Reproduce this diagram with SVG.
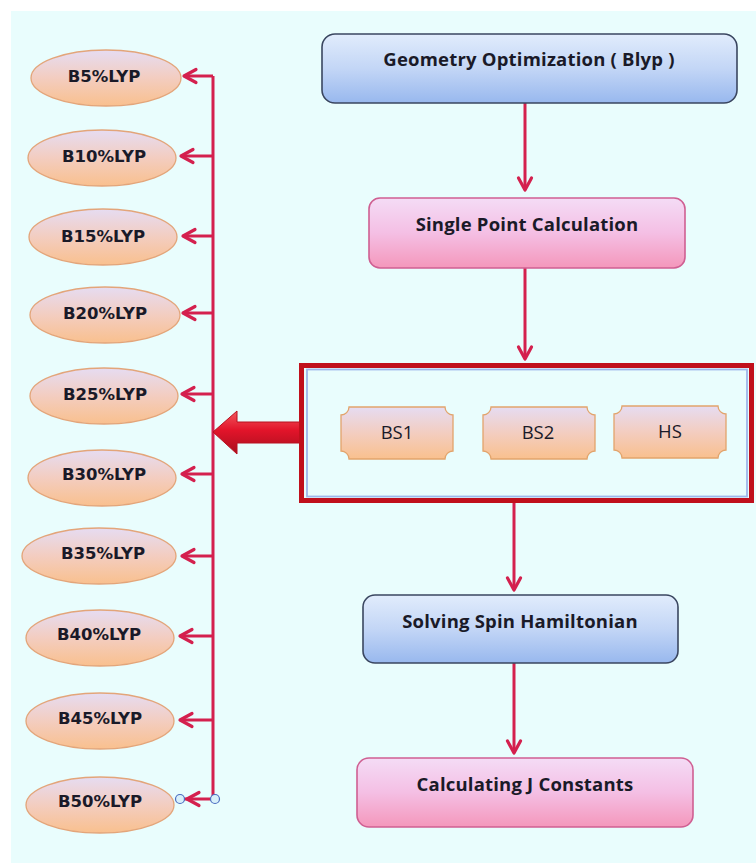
<svg xmlns="http://www.w3.org/2000/svg" width="756" height="863" viewBox="0 0 756 863">
<style>
.bg{fill:#e9fdfd}
.ell{fill:url(#gEll);stroke:#e3a57a;stroke-width:1.3}
.elt{font-family:"DejaVu Sans",Verdana,sans-serif;font-weight:bold;font-size:16.5px;fill:#1a1a28;text-anchor:middle}
.blue{fill:url(#gBlue);stroke:#3a4660;stroke-width:1.6}
.pink{fill:url(#gPink);stroke:#cf5f92;stroke-width:1.6}
.bt{font-family:"Open Sans","Liberation Sans",sans-serif;font-weight:bold;font-size:18.5px;letter-spacing:0.2px;fill:#1a1a28;text-anchor:middle}
.plq{fill:url(#gEll);stroke:#e2a46c;stroke-width:1.3}
.pt{font-family:"Open Sans","Liberation Sans",sans-serif;font-size:18.5px;fill:#1a1a28;text-anchor:middle}
.ln{fill:none;stroke:#d4204e;stroke-width:3}
.arr{marker-end:url(#chev)}
</style>
<defs>
<linearGradient id="gEll" x1="0" y1="0" x2="0" y2="1">
<stop offset="0" stop-color="#e6dcf2"/>
<stop offset="0.5" stop-color="#f3cdc0"/>
<stop offset="1" stop-color="#f9c08e"/>
</linearGradient>
<linearGradient id="gBlue" x1="0" y1="0" x2="0" y2="1">
<stop offset="0" stop-color="#e1ecfc"/>
<stop offset="0.5" stop-color="#c3d6f6"/>
<stop offset="1" stop-color="#98b8ee"/>
</linearGradient>
<linearGradient id="gPink" x1="0" y1="0" x2="0" y2="1">
<stop offset="0" stop-color="#f4dcf6"/>
<stop offset="0.5" stop-color="#f4bfe4"/>
<stop offset="1" stop-color="#f497bb"/>
</linearGradient>
<linearGradient id="gRed" x1="0" y1="0" x2="0" y2="1">
<stop offset="0" stop-color="#f2585e"/>
<stop offset="0.45" stop-color="#e2142a"/>
<stop offset="1" stop-color="#a80f1e"/>
</linearGradient>
<marker id="chev" markerUnits="userSpaceOnUse" viewBox="-15 -9 18 18" refX="0" refY="0" markerWidth="18" markerHeight="18" orient="auto">
<path d="M -12 -6.5 L 0 0 L -12 6.5" fill="none" stroke="#d4204e" stroke-width="3.2" stroke-linecap="round" stroke-linejoin="round"/>
</marker>
<path id="plaque" d="M 8 0 H 104 A 8 8 0 0 0 112 8 V 44 A 8 8 0 0 0 104 52 H 8 A 8 8 0 0 0 0 44 V 8 A 8 8 0 0 0 8 0 Z"/>
</defs>
<rect x="0" y="0" width="756" height="863" fill="#ffffff"/>
<rect class="bg" x="11" y="11" width="745" height="852"/>

<g id="connectors">
<line class="ln" x1="213" y1="76" x2="213" y2="799"/>
<line class="ln arr" x1="213" y1="76" x2="184" y2="76"/>
<line class="ln arr" x1="213" y1="156" x2="181" y2="156"/>
<line class="ln arr" x1="213" y1="236" x2="183" y2="236"/>
<line class="ln arr" x1="213" y1="313" x2="183" y2="313"/>
<line class="ln arr" x1="213" y1="394" x2="182" y2="394"/>
<line class="ln arr" x1="213" y1="474" x2="182" y2="474"/>
<line class="ln arr" x1="213" y1="556" x2="182" y2="556"/>
<line class="ln arr" x1="213" y1="636" x2="180" y2="636"/>
<line class="ln arr" x1="213" y1="720" x2="180" y2="720"/>
<line class="ln arr" x1="213" y1="799" x2="187" y2="799"/>
<line class="ln" x1="187" y1="799" x2="184" y2="799"/>
<circle cx="215" cy="799" r="4.5" fill="#d8f0fa" stroke="#4a6cc0" stroke-width="1.2"/>
<circle cx="180" cy="799" r="4.5" fill="#d8f0fa" stroke="#4a6cc0" stroke-width="1.2"/>
<line class="ln arr" x1="525" y1="103" x2="525" y2="190"/>
<line class="ln arr" x1="525" y1="268" x2="525" y2="359"/>
<line class="ln arr" x1="514" y1="503" x2="514" y2="590"/>
<line class="ln arr" x1="514" y1="663" x2="514" y2="753"/>
<polygon points="213,432 237,411 237,422 301,422 301,443 237,443 237,454" fill="url(#gRed)" stroke="#b81020" stroke-width="1"/>
</g>

<g id="b5"><ellipse class="ell" cx="106" cy="78" rx="75" ry="28"/><text class="elt" x="104" y="82">B5%LYP</text></g>
<g id="b10"><ellipse class="ell" cx="102" cy="158" rx="74" ry="28"/><text class="elt" x="104" y="162">B10%LYP</text></g>
<g id="b15"><ellipse class="ell" cx="103" cy="237" rx="74" ry="28"/><text class="elt" x="103" y="242">B15%LYP</text></g>
<g id="b20"><ellipse class="ell" cx="105" cy="315" rx="75" ry="28"/><text class="elt" x="105" y="319">B20%LYP</text></g>
<g id="b25"><ellipse class="ell" cx="104" cy="396" rx="74" ry="28"/><text class="elt" x="105" y="400">B25%LYP</text></g>
<g id="b30"><ellipse class="ell" cx="102" cy="478" rx="74" ry="28"/><text class="elt" x="104" y="480">B30%LYP</text></g>
<g id="b35"><ellipse class="ell" cx="99" cy="556" rx="77" ry="28"/><text class="elt" x="103" y="559">B35%LYP</text></g>
<g id="b40"><ellipse class="ell" cx="100" cy="638" rx="74" ry="28"/><text class="elt" x="99" y="640">B40%LYP</text></g>
<g id="b45"><ellipse class="ell" cx="100" cy="721" rx="74" ry="28"/><text class="elt" x="100" y="724">B45%LYP</text></g>
<g id="b50"><ellipse class="ell" cx="100" cy="805" rx="74" ry="28"/><text class="elt" x="100" y="807">B50%LYP</text></g>

<g id="geom"><rect class="blue" x="322" y="34" width="415" height="69" rx="13"/><text class="bt" x="529" y="66">Geometry Optimization ( Blyp )</text></g>
<g id="single"><rect class="pink" x="369" y="198" width="316" height="70" rx="11"/><text class="bt" x="527" y="231">Single Point Calculation</text></g>
<g id="states">
<rect x="301.5" y="365.5" width="450" height="135" fill="none" stroke="#c0101c" stroke-width="5"/>
<rect x="307" y="369.5" width="440" height="127" fill="none" stroke="#9eb6ea" stroke-width="1.8"/>
</g>
<g id="bs1"><use href="#plaque" class="plq" x="341" y="407"/><text class="pt" x="397" y="439">BS1</text></g>
<g id="bs2"><use href="#plaque" class="plq" x="483" y="407"/><text class="pt" x="538" y="439">BS2</text></g>
<g id="hs"><use href="#plaque" class="plq" x="614" y="406"/><text class="pt" x="670" y="438">HS</text></g>
<g id="solving"><rect class="blue" x="363" y="595" width="315" height="68" rx="12"/><text class="bt" x="520" y="628">Solving Spin Hamiltonian</text></g>
<g id="calc"><rect class="pink" x="357" y="758" width="336" height="69" rx="12"/><text class="bt" x="525" y="791">Calculating J Constants</text></g>
</svg>
